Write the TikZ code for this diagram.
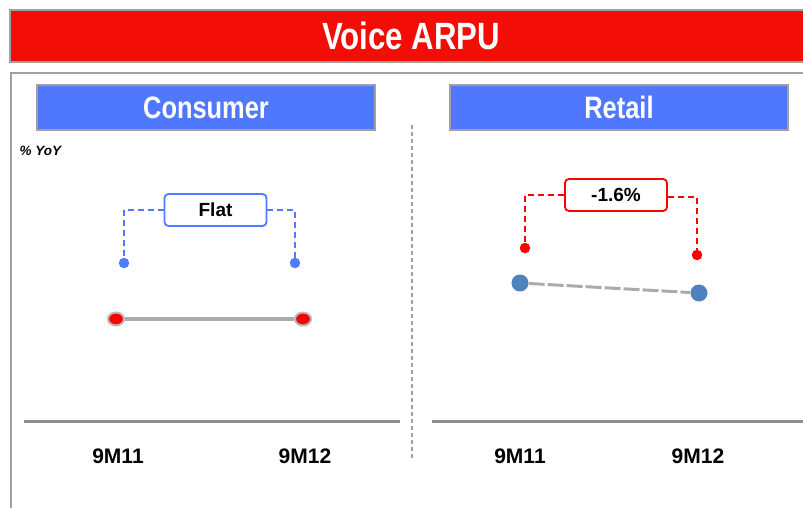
\documentclass[tikz,border=0pt]{standalone}
\usepackage{fontspec}
\setmainfont{Liberation Sans}
\newfontfamily\narrowfont[FakeStretch=0.82]{Liberation Sans}
\usetikzlibrary{shapes.geometric}

\definecolor{titlered}{HTML}{F20D07}
\definecolor{headblue}{HTML}{5078FF}
\definecolor{bracketblue}{HTML}{4F7BFF}
\definecolor{pointblue}{HTML}{4F81BD}
\definecolor{framegray}{HTML}{A0A0A0}
\definecolor{axisgray}{HTML}{8C8C8C}
\definecolor{linegray}{HTML}{ABABAB}

\tikzset{
  panelhead/.style={draw=framegray, line width=2pt, fill=headblue, text=white,
    minimum width=338pt, minimum height=45pt, inner sep=0pt,
    font=\narrowfont\bfseries\fontsize{31}{31}\selectfont},
  changebox/.style={draw, rounded corners=4pt, line width=1.8pt, fill=white,
    minimum width=102pt, minimum height=32pt, inner sep=0pt,
    font=\bfseries\fontsize{19}{19}\selectfont},
  bracket/.style={dashed, dash pattern=on 6pt off 4pt, line width=1.8pt},
  enddot/.style={circle, inner sep=0pt, minimum size=10.5pt},
  reddot/.style={ellipse, fill=red, draw=gray!55, line width=2pt,
    minimum width=16pt, minimum height=13pt, inner sep=0pt},
  bluedot/.style={circle, fill=pointblue, inner sep=0pt, minimum size=17pt},
  axisline/.style={draw=axisgray, line width=3pt},
  period/.style={font=\bfseries\fontsize{21}{21}\selectfont}
}

\begin{document}
\begin{tikzpicture}[x=1pt, y=-1pt]
\useasboundingbox (0,0) rectangle (803,508);
\clip (0,0) rectangle (803,508);

% title bar
\node[draw=framegray, line width=2pt, fill=titlered, text=white,
  minimum width=802pt, minimum height=52pt, inner sep=0pt,
  font=\narrowfont\bfseries\fontsize{38}{38}\selectfont] (title) at (411,36) {Voice ARPU};

% outer frame
\draw[framegray, line width=2.5pt] (11,520) -- (11,73) -- (815,73);

% panel headings
\node[panelhead] (consumer) at (206,107.5) {Consumer};
\node[panelhead] (retail) at (619,107.5) {Retail};

% separator between panels
\draw[framegray, line width=1.3pt, dash pattern=on 4pt off 3pt] (412,125) -- (412,460);

\node[anchor=west, font=\bfseries\itshape\fontsize{13.5}{13.5}\selectfont] (yoy) at (16,151) {\% YoY};

% consumer panel
\node[changebox, draw=bracketblue] (flat) at (215.5,210) {Flat};
\node[enddot, fill=bracketblue] (cdotA) at (124,263) {};
\node[enddot, fill=bracketblue] (cdotB) at (295,263) {};
\draw[bracket, bracketblue] (flat.west) -| (cdotA);
\draw[bracket, bracketblue] (flat.east) -| (cdotB);

\node[reddot] (cvA) at (116,319) {};
\node[reddot] (cvB) at (303,319) {};
\draw[linegray, line width=3.5pt] (cvA) -- (cvB);

\draw[axisline] (24,421) -- (400,421);
\node[period] (cxA) at (118,456) {9M11};
\node[period] (cxB) at (305,456) {9M12};

% retail panel
\node[changebox, draw=red] (drop) at (616,195) {-1.6\%};
\node[enddot, fill=red] (rdotA) at (525,248) {};
\node[enddot, fill=red] (rdotB) at (697,255) {};
\draw[bracket, red] (drop.west) -| (rdotA);
\draw[bracket, red] ([yshift=-2pt]drop.east) -| (rdotB);

\node[bluedot] (rvA) at (520,283) {};
\node[bluedot] (rvB) at (699,293) {};
\draw[linegray, line width=3pt, dash pattern=on 16pt off 3pt] (rvA) -- (rvB);

\draw[axisline] (432,421) -- (815,421);
\node[period] (rxA) at (520,456) {9M11};
\node[period] (rxB) at (698,456) {9M12};
\end{tikzpicture}
\end{document}
